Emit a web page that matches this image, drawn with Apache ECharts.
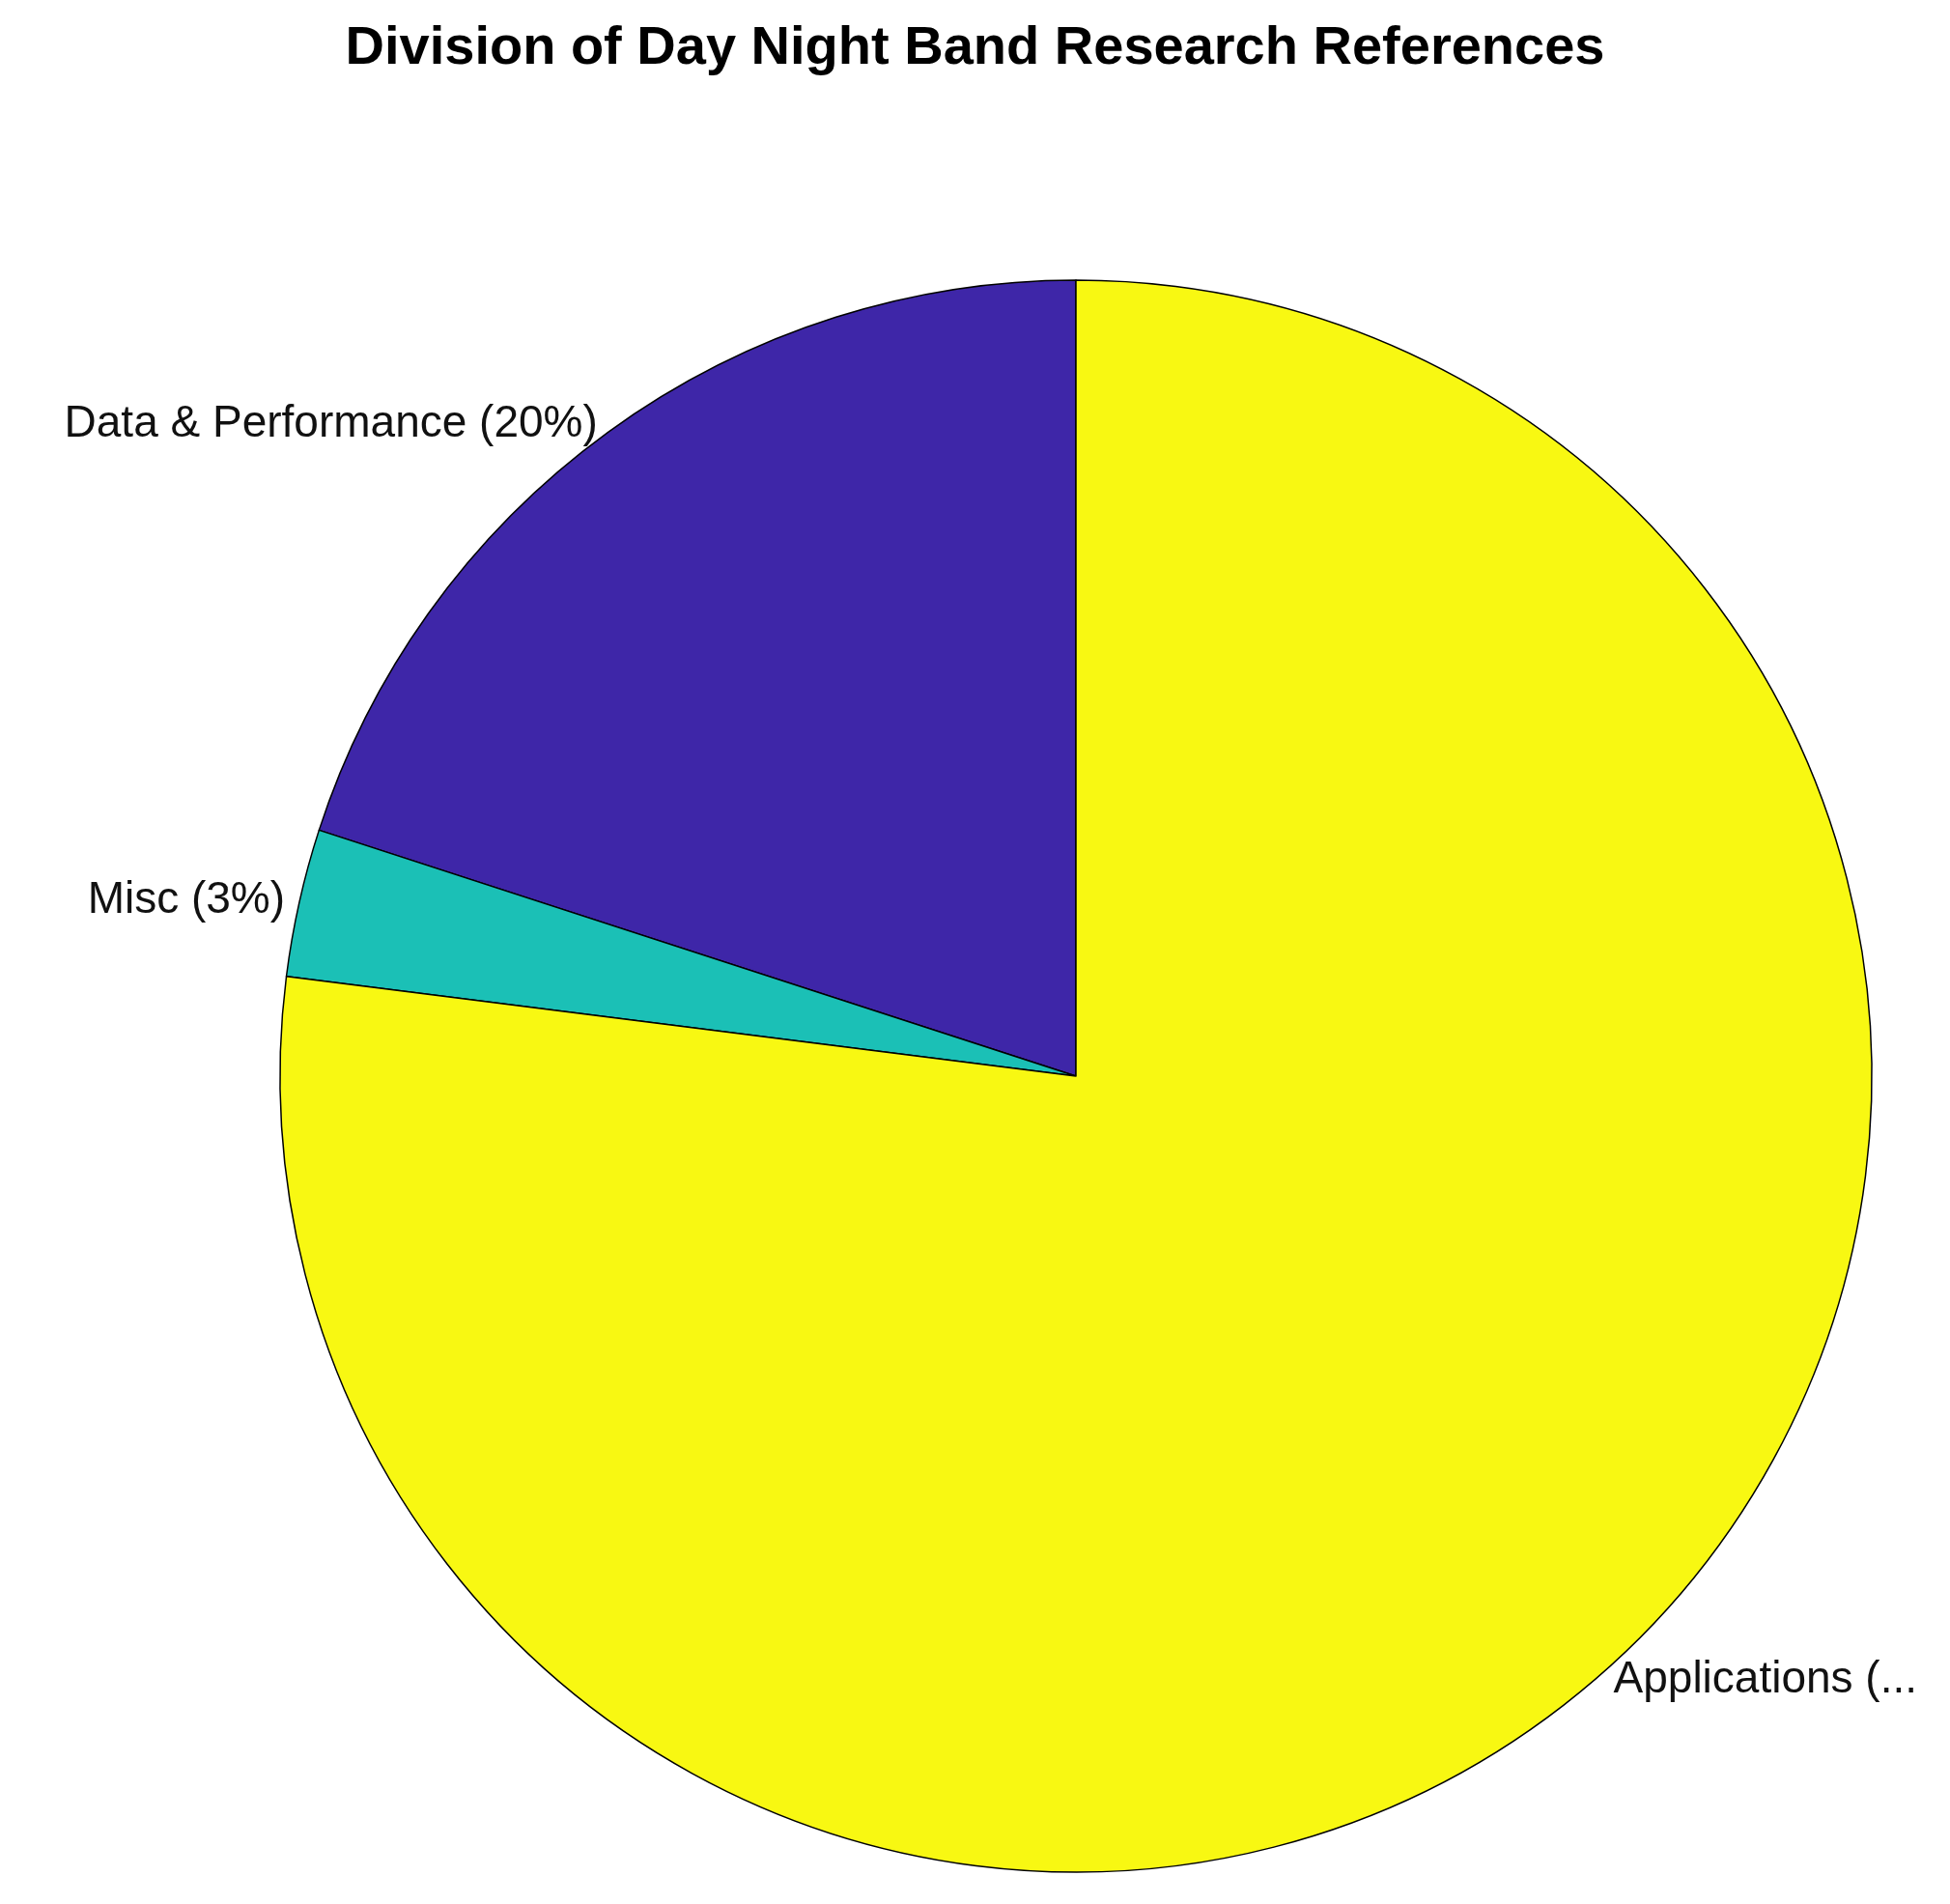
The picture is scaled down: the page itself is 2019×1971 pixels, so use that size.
<!DOCTYPE html>
<html>
<head>
<meta charset="utf-8">
<script src="https://cdn.jsdelivr.net/npm/echarts@6/dist/echarts.min.js"></script>
<style>html,body{margin:0;background:#fff}#chart{width:2019px;height:1971px}</style>
</head>
<body>
<div id="chart"></div>
<script>
// pie data, counterclockwise from 12 o'clock
var categories = ['Data & Performance', 'Misc', 'Applications'];
var values = [20, 3, 77];
var colors = ['#3e26a8', '#1bc0b6', '#f8f812'];

var myChart = echarts.init(document.getElementById('chart'));

var option = {
  backgroundColor: '#fff',
  title: {
    text: 'Division of Day Night Band Research References',
    left: 'center',
    top: 18,
    textStyle: { fontFamily: 'Liberation Sans', fontWeight: 'bold', fontSize: 56, color: '#000' }
  },
  series: [
    {
      type: 'pie',
      center: [1114, 1114],
      radius: 824,
      startAngle: 90,
      clockwise: false,
      animation: false,
      itemStyle: { borderColor: '#000', borderWidth: 1.5 },
      label: {
        position: 'outside',
        fontFamily: 'Liberation Sans',
        fontSize: 46,
        color: '#111',
        formatter: function (p) { return p.name + ' (' + p.value + '%)'; }
      },
      labelLine: { show: false, length: 10, length2: 0 },
      data: categories.map(function (c, i) {
        return { name: c, value: values[i], itemStyle: { color: colors[i] } };
      })
    }
  ]
};

myChart.setOption(option);
</script>
</body>
</html>
